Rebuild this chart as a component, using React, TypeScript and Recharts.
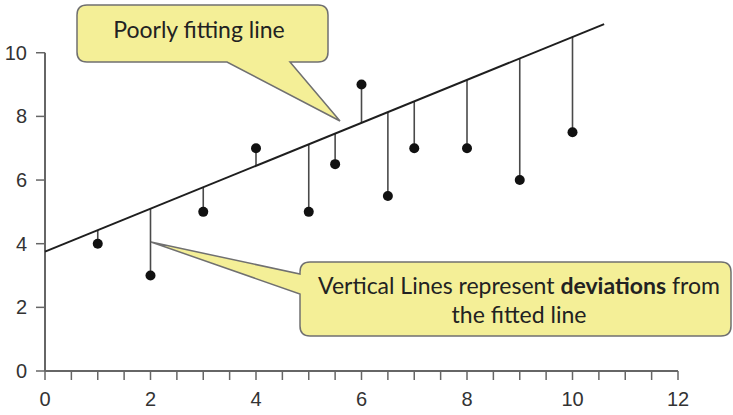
import React from 'react';
import { ComposedChart, XAxis, YAxis, Scatter, ReferenceLine } from 'recharts';

// observed points
const pointX = [1, 2, 3, 4, 5, 5.5, 6, 6.5, 7, 8, 9, 10];
const pointY = [4, 3, 5, 7, 5, 6.5, 9, 5.5, 7, 7, 6, 7.5];
// where each vertical deviation line meets the fitted line
const fittedY = [4.43, 5.1, 5.78, 6.45, 7.13, 7.46, 7.8, 8.14, 8.48, 9.15, 9.83, 10.5];

// the poorly fitting line, two ends
const lineX = [0, 10.6];
const lineY = [3.75, 10.9];

const xTicks = [0, 0.5, 1, 1.5, 2, 2.5, 3, 3.5, 4, 4.5, 5, 5.5, 6, 6.5, 7, 7.5, 8, 8.5, 9, 9.5, 10, 10.5, 11, 11.5, 12];
const xLabels = [0, 2, 4, 6, 8, 10, 12];
const yTicks = [0, 2, 4, 6, 8, 10];

const points = pointX.map((x, i) => ({ x, y: pointY[i] }));

const AXIS = '#666';
const CALLOUT_FILL = '#f4ef97';
const CALLOUT_STROKE = '#707070';
const CALLOUT_FONT = "Lato, 'Open Sans', sans-serif";

const XTick = (props: any) => {
  const { x, y, payload } = props;
  if (!xLabels.includes(payload.value)) return null;
  return (
    <text x={x} y={y} dy="0.71em" textAnchor="middle" fontSize={20} fill="#333"
      fontFamily="'Liberation Sans', Arial, sans-serif">
      {payload.value}
    </text>
  );
};

const Dot = (props: any) => <circle cx={props.cx} cy={props.cy} r={5} fill="#111" />;

export default function App() {
  return (
    <div style={{ position: 'relative', width: 733, height: 415, background: '#fff' }}>
      <style>{`body{margin:0}`}</style>
      <ComposedChart width={733} height={415} margin={{ top: 5, right: 55, left: 10, bottom: 4 }}>
        <XAxis
          type="number"
          dataKey="x"
          domain={[0, 12]}
          ticks={xTicks}
          interval={0}
          tick={<XTick />}
          tickSize={9}
          tickMargin={12}
          height={40}
          axisLine={{ stroke: AXIS, strokeWidth: 2 }}
          tickLine={{ stroke: AXIS, strokeWidth: 1.5 }}
        />
        <YAxis
          type="number"
          domain={[0, 11.5]}
          ticks={yTicks}
          interval={0}
          width={35}
          tickSize={9}
          tickMargin={9}
          axisLine={false}
          tickLine={{ stroke: AXIS, strokeWidth: 1.5 }}
          tick={{ fontSize: 20, fill: '#333', fontFamily: "'Liberation Sans', Arial, sans-serif" }}
        />
        {/* y axis line only runs up to 10 */}
        <ReferenceLine
          segment={[{ x: 0, y: 0 }, { x: 0, y: 10 }]}
          stroke={AXIS}
          strokeWidth={2}
          ifOverflow="visible"
        />
        {points.map((p, i) => (
          <ReferenceLine
            key={i}
            segment={[{ x: p.x, y: p.y }, { x: p.x, y: fittedY[i] }]}
            stroke="#4a4a4a"
            strokeWidth={1.6}
            ifOverflow="visible"
          />
        ))}
        <ReferenceLine
          segment={[{ x: lineX[0], y: lineY[0] }, { x: lineX[1], y: lineY[1] }]}
          stroke="#1e1e1e"
          strokeWidth={2}
          ifOverflow="visible"
        />
        <Scatter data={points} dataKey="y" shape={<Dot />} isAnimationActive={false} />
      </ComposedChart>

      {/* callouts */}
      <svg width={733} height={415} style={{ position: 'absolute', left: 0, top: 0, pointerEvents: 'none' }}>
        <path
          d="M 87 5 H 318 Q 328 5 328 15 V 52 Q 328 62 318 62 H 290 L 340 121 L 227 62 H 87 Q 77 62 77 52 V 15 Q 77 5 87 5 Z"
          fill={CALLOUT_FILL}
          stroke={CALLOUT_STROKE}
          strokeWidth={1.5}
        />
        <text x={199} y={38} textAnchor="middle" fontSize={23} fill="#222" fontFamily={CALLOUT_FONT}>
          Poorly fitting line
        </text>
        <path
          d="M 310 262 H 721 Q 731 262 731 272 V 326 Q 731 336 721 336 H 310 Q 300 336 300 326 V 294 L 151 242 L 300 274 V 272 Q 300 262 310 262 Z"
          fill={CALLOUT_FILL}
          stroke={CALLOUT_STROKE}
          strokeWidth={1.5}
        />
        <text x={519} y={294} textAnchor="middle" fontSize={23} fill="#222" fontFamily={CALLOUT_FONT}>
          Vertical Lines represent <tspan fontWeight="bold">deviations</tspan> from
        </text>
        <text x={519} y={323} textAnchor="middle" fontSize={23} fill="#222" fontFamily={CALLOUT_FONT}>
          the fitted line
        </text>
      </svg>
    </div>
  );
}
